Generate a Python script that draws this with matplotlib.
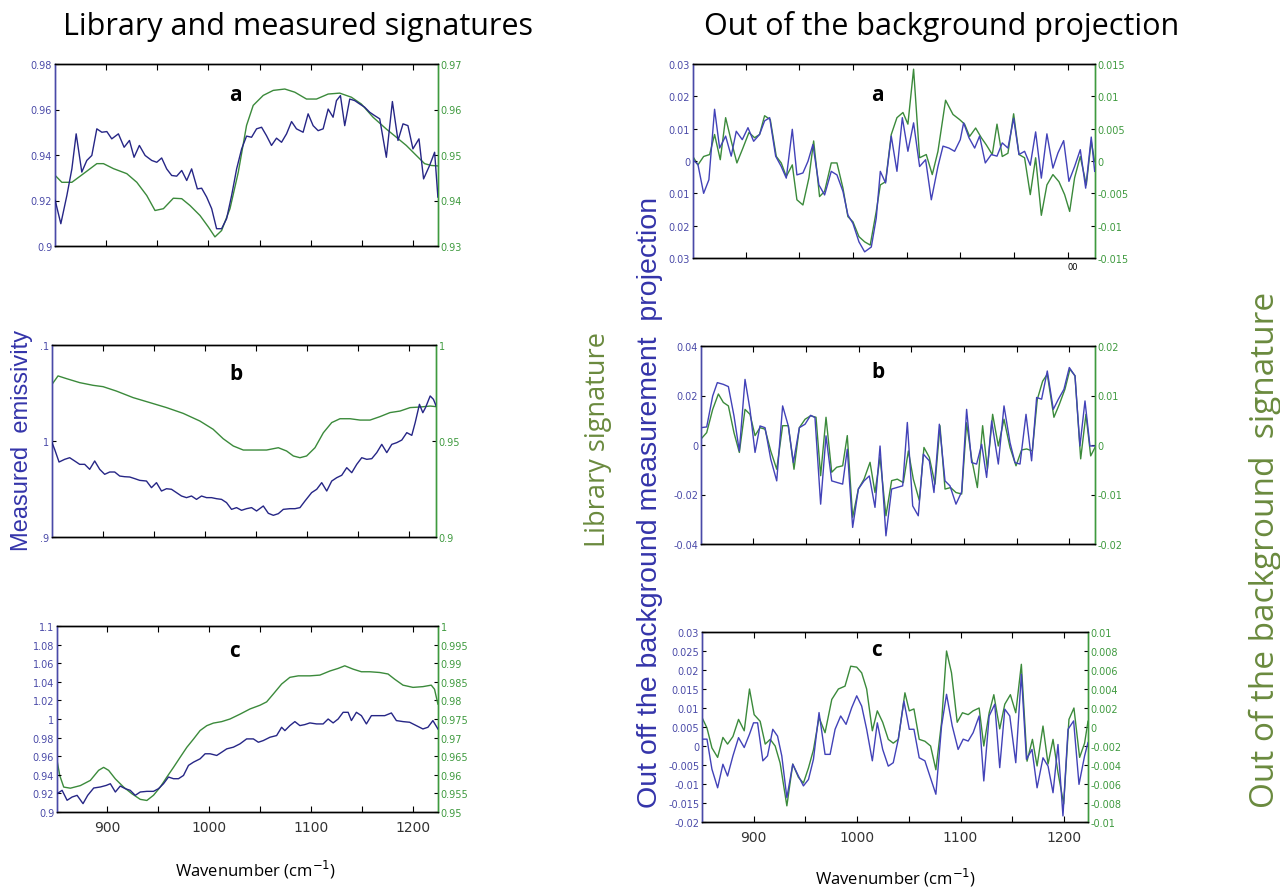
import matplotlib
matplotlib.use('Agg')
import matplotlib.pyplot as plt

# ---- panel a, left: measured (blue) and library (green) ----
la_wn_m = [850.2, 855.7, 861.6, 866.5, 870.7, 876.2, 881.1, 886.0, 890.9, 895.8, 900.7, 905.5, 912.0, 917.6, 922.8,
           927.3, 932.5, 938.1, 944.6, 949.5, 954.3, 959.2, 964.1, 969.0, 973.9, 978.8, 983.6, 989.2, 993.4, 998.3,
           1003.2, 1008.0, 1012.9, 1017.8, 1022.7, 1027.6, 1032.5, 1037.3, 1042.2, 1047.1, 1052.0, 1056.8, 1061.7,
           1066.6, 1071.5, 1076.4, 1081.3, 1086.1, 1092.6, 1097.5, 1102.4, 1107.3, 1112.2, 1117.1, 1121.9, 1125.2,
           1129.1, 1133.3, 1138.2, 1143.1, 1148.0, 1152.8, 1157.7, 1162.6, 1167.5, 1174.0, 1179.9, 1185.4, 1190.3,
           1195.1, 1200.0, 1205.9, 1210.4, 1216.3, 1221.2, 1224.4]
la_m = [0.9200, 0.9098, 0.9222, 0.9339, 0.9493, 0.9325, 0.9376, 0.9398, 0.9515, 0.9500, 0.9503, 0.9471, 0.9493,
        0.9434, 0.9464, 0.9390, 0.9442, 0.9398, 0.9376, 0.9368, 0.9387, 0.9339, 0.9310, 0.9307, 0.9332, 0.9288,
        0.9339, 0.9251, 0.9254, 0.9215, 0.9164, 0.9076, 0.9076, 0.9120, 0.9222, 0.9339, 0.9427, 0.9483, 0.9478,
        0.9515, 0.9522, 0.9485, 0.9442, 0.9474, 0.9456, 0.9493, 0.9547, 0.9515, 0.9500, 0.9581, 0.9529, 0.9507,
        0.9515, 0.9602, 0.9566, 0.9639, 0.9661, 0.9529, 0.9646, 0.9639, 0.9624, 0.9610, 0.9588, 0.9573, 0.9559,
        0.9390, 0.9635, 0.9464, 0.9537, 0.9529, 0.9427, 0.9471, 0.9295, 0.9354, 0.9412, 0.9215]
la_wn_l = [850.2, 856.7, 866.5, 877.9, 890.9, 897.4, 907.2, 920.2, 930.0, 939.7, 947.8, 956.0, 965.7, 973.9, 982.0,
           991.8, 999.9, 1006.4, 1012.9, 1021.1, 1029.2, 1037.3, 1043.8, 1053.6, 1063.4, 1074.7, 1084.5, 1095.9,
           1105.7, 1117.1, 1128.4, 1139.8, 1149.6, 1161.0, 1174.0, 1183.8, 1193.5, 1203.3, 1211.4, 1217.9, 1224.4]
la_l = [0.9455, 0.9440, 0.9440, 0.9459, 0.9481, 0.9481, 0.9470, 0.9459, 0.9440, 0.9411, 0.9378, 0.9382, 0.9405,
        0.9404, 0.9389, 0.9367, 0.9342, 0.9320, 0.9334, 0.9382, 0.9462, 0.9565, 0.9609, 0.9631, 0.9642, 0.9645,
        0.9638, 0.9623, 0.9623, 0.9634, 0.9636, 0.9627, 0.9612, 0.9583, 0.9557, 0.9539, 0.9521, 0.9499, 0.9481,
        0.9477, 0.9476]

# ---- panel b, left ----
lb_wn_m = [850.0, 852.6, 856.9, 862.4, 867.3, 872.2, 877.1, 882.0, 886.9, 891.8, 896.7, 901.6, 906.5, 911.4, 916.3,
           921.2, 926.1, 931.0, 935.9, 942.5, 947.4, 952.3, 957.2, 962.1, 967.0, 971.9, 976.8, 981.7, 986.6, 991.5,
           996.4, 1001.3, 1006.2, 1011.1, 1016.0, 1020.9, 1025.8, 1030.7, 1035.6, 1040.5, 1045.4, 1050.3, 1056.9,
           1061.8, 1066.7, 1071.6, 1076.5, 1083.0, 1087.9, 1092.8, 1097.7, 1104.2, 1109.2, 1114.1, 1119.0, 1123.9,
           1128.8, 1133.7, 1138.6, 1143.5, 1148.4, 1153.3, 1158.2, 1163.1, 1168.0, 1172.9, 1177.8, 1182.7, 1187.6,
           1192.5, 1197.4, 1202.3, 1205.6, 1209.8, 1213.1, 1215.7, 1220.3, 1223.5, 1226.1]
lb_m = [0.9983, 0.9913, 0.9781, 0.9809, 0.9826, 0.9792, 0.9757, 0.9757, 0.9705, 0.9792, 0.9705, 0.9653, 0.9677,
        0.9677, 0.9635, 0.9628, 0.9625, 0.9608, 0.9590, 0.9583, 0.9514, 0.9566, 0.9479, 0.9503, 0.9497, 0.9462,
        0.9427, 0.9410, 0.9427, 0.9392, 0.9427, 0.9410, 0.9410, 0.9399, 0.9392, 0.9358, 0.9288, 0.9306, 0.9278,
        0.9295, 0.9306, 0.9271, 0.9323, 0.9247, 0.9226, 0.9243, 0.9288, 0.9295, 0.9295, 0.9306, 0.9375, 0.9462,
        0.9497, 0.9566, 0.9479, 0.9583, 0.9618, 0.9643, 0.9722, 0.9670, 0.9757, 0.9826, 0.9809, 0.9816, 0.9879,
        0.9965, 0.9879, 0.9965, 0.9983, 1.0010, 1.0087, 1.0059, 1.0191, 1.0382, 1.0295, 1.0347, 1.0469, 1.0434,
        1.0365]
lb_wn_l = [850.0, 855.9, 864.1, 877.1, 890.2, 900.0, 913.1, 929.4, 945.8, 962.1, 978.4, 994.8, 1007.8, 1017.6,
           1027.5, 1037.3, 1050.3, 1060.1, 1071.6, 1079.7, 1086.3, 1092.8, 1099.3, 1107.5, 1115.7, 1123.9, 1132.0,
           1141.8, 1151.6, 1161.4, 1171.2, 1181.0, 1190.8, 1200.7, 1210.5, 1220.3, 1226.1]
lb_l = [0.9795, 0.9839, 0.9825, 0.9804, 0.9790, 0.9783, 0.9760, 0.9726, 0.9700, 0.9674, 0.9644, 0.9604, 0.9561,
        0.9512, 0.9474, 0.9453, 0.9453, 0.9453, 0.9465, 0.9448, 0.9422, 0.9413, 0.9422, 0.9465, 0.9543, 0.9596,
        0.9616, 0.9616, 0.9609, 0.9609, 0.9627, 0.9648, 0.9656, 0.9674, 0.9677, 0.9682, 0.9679]

# ---- panel c, left ----
lc_wn_m = [851.1, 856.0, 860.9, 865.8, 870.7, 876.5, 881.1, 887.0, 893.5, 899.3, 903.3, 908.2, 913.0, 917.9, 922.8,
           927.7, 932.6, 939.1, 945.6, 950.5, 955.4, 960.3, 965.2, 970.1, 975.0, 979.9, 984.8, 991.3, 996.2, 1001.1,
           1007.6, 1012.5, 1017.4, 1023.9, 1030.4, 1036.9, 1043.5, 1048.4, 1053.2, 1059.8, 1066.3, 1071.2, 1074.4,
           1079.3, 1084.2, 1089.1, 1094.0, 1098.9, 1105.4, 1111.9, 1116.8, 1121.7, 1126.6, 1131.5, 1136.4, 1139.6,
           1144.5, 1149.4, 1154.3, 1159.2, 1165.7, 1172.3, 1178.8, 1183.7, 1190.2, 1196.7, 1203.2, 1209.7, 1214.6,
           1219.5, 1224.4]
lc_m = [0.9197, 0.9233, 0.9126, 0.9161, 0.9179, 0.9090, 0.9179, 0.9258, 0.9269, 0.9286, 0.9304, 0.9215, 0.9279,
        0.9251, 0.9233, 0.9179, 0.9215, 0.9222, 0.9222, 0.9251, 0.9304, 0.9376, 0.9358, 0.9358, 0.9393, 0.9501,
        0.9536, 0.9572, 0.9626, 0.9626, 0.9608, 0.9643, 0.9679, 0.9697, 0.9733, 0.9786, 0.9786, 0.9750, 0.9768,
        0.9804, 0.9822, 0.9911, 0.9875, 0.9929, 0.9972, 0.9929, 0.9940, 0.9958, 0.9947, 0.9947, 1.0000, 0.9958,
        1.0000, 1.0072, 1.0072, 0.9983, 1.0072, 1.0036, 0.9947, 1.0036, 1.0036, 1.0036, 1.0065, 0.9983, 0.9972,
        0.9965, 0.9929, 0.9893, 0.9911, 0.9983, 0.9893]
lc_wn_l = [851.1, 853.7, 857.6, 864.1, 873.9, 883.7, 891.8, 896.7, 901.6, 908.2, 916.3, 924.5, 932.6, 939.1, 945.6,
           952.2, 958.7, 965.2, 971.7, 978.3, 984.8, 991.3, 997.8, 1004.3, 1012.5, 1020.6, 1030.4, 1040.2, 1050.0,
           1056.5, 1063.0, 1071.2, 1079.3, 1087.5, 1098.9, 1108.7, 1118.5, 1126.6, 1133.1, 1141.3, 1149.4, 1157.6,
           1167.4, 1175.5, 1182.0, 1190.2, 1200.0, 1209.7, 1217.9, 1221.1, 1224.4]
lc_l = [0.9638, 0.9598, 0.9567, 0.9564, 0.9571, 0.9585, 0.9612, 0.9620, 0.9612, 0.9589, 0.9567, 0.9549, 0.9534,
        0.9531, 0.9545, 0.9567, 0.9594, 0.9620, 0.9647, 0.9674, 0.9696, 0.9719, 0.9732, 0.9739, 0.9743, 0.9750,
        0.9763, 0.9777, 0.9787, 0.9796, 0.9817, 0.9844, 0.9862, 0.9866, 0.9866, 0.9868, 0.9879, 0.9886, 0.9893,
        0.9884, 0.9877, 0.9877, 0.9875, 0.9871, 0.9857, 0.9841, 0.9835, 0.9837, 0.9841, 0.9830, 0.9790]

# ---- panel a, right: out of background projections ----
ra_wn_m = [850.9, 855.6, 860.9, 865.8, 871.1, 875.8, 881.4, 886.6, 891.3, 896.9, 902.2, 907.5, 913.0, 917.7, 922.4,
           928.0, 933.2, 937.9, 943.5, 947.8, 953.4, 958.1, 962.7, 968.3, 973.6, 979.8, 985.1, 990.7, 995.3, 1000.0,
           1005.6, 1010.9, 1017.1, 1021.7, 1025.5, 1030.4, 1035.7, 1041.0, 1046.0, 1051.2, 1056.5, 1062.1, 1067.7,
           1073.0, 1079.2, 1083.9, 1089.4, 1094.7, 1100.0, 1103.1, 1108.1, 1113.4, 1118.0, 1123.3, 1128.9, 1134.2,
           1139.1, 1144.4, 1149.7, 1154.7, 1159.9, 1165.2, 1170.2, 1175.5, 1180.7, 1186.3, 1191.0, 1196.3, 1201.2,
           1206.5, 1211.8, 1216.8, 1222.0, 1225.2]
ra_m = [0.0004, -0.0011, -0.0100, -0.0058, 0.0160, 0.0040, 0.0077, 0.0015, 0.0092, 0.0066, 0.0103, 0.0061, 0.0082,
        0.0124, 0.0134, 0.0015, -0.0017, -0.0053, 0.0098, -0.0043, -0.0037, -0.0001, 0.0051, -0.0074, -0.0105,
        -0.0032, -0.0043, -0.0094, -0.0167, -0.0193, -0.0250, -0.0281, -0.0266, -0.0177, -0.0032, -0.0068, 0.0077,
        -0.0032, 0.0134, 0.0030, 0.0118, -0.0017, 0.0004, -0.0120, -0.0017, 0.0046, 0.0040, 0.0030, 0.0066, 0.0118,
        0.0072, 0.0040, 0.0077, -0.0006, 0.0020, 0.0015, 0.0056, 0.0040, 0.0132, 0.0020, 0.0030, -0.0013, 0.0090,
        -0.0053, 0.0084, -0.0022, 0.0025, 0.0063, -0.0063, -0.0017, 0.0035, -0.0084, 0.0074, -0.0032]
ra_wn_l = [850.9, 855.6, 860.9, 866.5, 871.1, 876.4, 881.4, 886.6, 891.9, 897.5, 903.1, 908.4, 913.0, 917.7, 923.0,
           928.6, 933.2, 937.9, 943.5, 947.8, 953.4, 959.0, 963.4, 968.9, 973.6, 979.8, 985.1, 990.7, 995.3, 1000.0,
           1005.6, 1010.9, 1016.1, 1021.7, 1025.5, 1030.4, 1035.7, 1041.0, 1046.6, 1051.2, 1056.5, 1062.1, 1068.3,
           1073.9, 1079.2, 1086.3, 1093.2, 1099.4, 1104.0, 1108.7, 1114.3, 1119.6, 1124.2, 1129.8, 1134.2, 1139.1,
           1144.4, 1149.7, 1154.7, 1159.9, 1165.2, 1170.2, 1175.5, 1180.7, 1186.3, 1191.9, 1197.2, 1201.9, 1206.5,
           1211.8, 1217.4, 1222.0, 1225.2]
ra_l = [0.0007, -0.0006, 0.0007, 0.0010, 0.0041, 0.0002, 0.0067, 0.0031, -0.0003, 0.0020, 0.0044, 0.0036, 0.0041,
        0.0070, 0.0064, 0.0007, -0.0003, -0.0024, -0.0006, -0.0060, -0.0068, -0.0026, 0.0031, -0.0055, -0.0047,
        -0.0003, -0.0003, -0.0042, -0.0086, -0.0094, -0.0117, -0.0125, -0.0130, -0.0078, -0.0037, -0.0032, 0.0041,
        0.0067, 0.0075, 0.0057, 0.0142, 0.0005, 0.0010, -0.0021, 0.0015, 0.0094, 0.0072, 0.0064, 0.0057, 0.0038,
        0.0051, 0.0036, 0.0025, 0.0010, 0.0057, 0.0007, 0.0012, 0.0073, 0.0010, 0.0005, -0.0052, 0.0005, -0.0084,
        -0.0037, -0.0021, -0.0032, -0.0052, -0.0078, -0.0026, 0.0007, -0.0037, 0.0031, -0.0001]

# ---- panel b, right ----
rb_wn_m = [850.3, 855.7, 861.4, 865.8, 871.5, 876.3, 881.6, 886.7, 892.1, 896.8, 901.6, 906.3, 911.1, 916.5, 922.2,
           927.8, 933.2, 938.0, 943.7, 949.1, 954.4, 958.5, 963.9, 969.0, 974.4, 979.1, 984.8, 989.2, 994.3, 999.7,
           1005.1, 1010.1, 1015.5, 1020.3, 1025.9, 1031.3, 1036.1, 1041.8, 1046.2, 1051.3, 1056.6, 1061.4, 1067.1,
           1071.5, 1076.6, 1082.0, 1086.7, 1092.4, 1097.8, 1102.5, 1107.3, 1112.0, 1116.8, 1121.5, 1126.3, 1132.6,
           1138.0, 1143.7, 1148.4, 1153.2, 1158.9, 1164.2, 1169.0, 1173.7, 1179.1, 1184.8, 1189.6, 1194.9, 1200.0,
           1205.4, 1210.1, 1214.9, 1219.6, 1224.4]
rb_m = [0.0070, 0.0073, 0.0198, 0.0252, 0.0245, 0.0236, 0.0118, -0.0024, 0.0265, 0.0144, -0.0030, 0.0077, 0.0070,
        -0.0057, -0.0145, 0.0158, 0.0077, -0.0071, 0.0070, 0.0084, 0.0120, 0.0111, -0.0239, 0.0037, -0.0145,
        -0.0151, -0.0158, -0.0017, -0.0333, -0.0178, -0.0145, -0.0125, -0.0252, -0.0004, -0.0367, -0.0178, -0.0172,
        -0.0165, 0.0091, -0.0246, -0.0286, -0.0037, -0.0064, -0.0192, 0.0084, -0.0145, -0.0165, -0.0239, -0.0189,
        0.0144, -0.0071, -0.0077, 0.0003, -0.0131, 0.0097, -0.0077, 0.0158, 0.0010, -0.0071, -0.0077, 0.0124,
        -0.0064, 0.0192, 0.0185, 0.0299, 0.0144, 0.0185, 0.0225, 0.0313, 0.0279, -0.0004, 0.0178, -0.0004, -0.0004]
rb_wn_l = [850.3, 855.7, 861.4, 866.8, 871.5, 876.3, 881.6, 886.7, 892.1, 896.8, 901.6, 906.3, 911.1, 916.5, 922.2,
           927.8, 933.2, 938.6, 943.7, 949.1, 954.4, 959.5, 963.9, 969.0, 974.4, 979.1, 984.8, 989.2, 994.3, 999.7,
           1005.1, 1010.8, 1015.5, 1020.3, 1025.9, 1031.3, 1036.7, 1042.4, 1047.2, 1051.9, 1057.6, 1062.0, 1067.1,
           1072.5, 1077.2, 1082.0, 1087.3, 1092.4, 1097.8, 1102.5, 1107.3, 1112.7, 1117.7, 1122.2, 1127.2, 1132.6,
           1138.0, 1143.7, 1149.4, 1154.7, 1159.5, 1164.9, 1169.6, 1174.7, 1179.1, 1185.4, 1190.5, 1195.9, 1200.6,
           1205.4, 1210.8, 1215.8, 1220.3, 1224.4]
rb_l = [0.0012, 0.0025, 0.0072, 0.0103, 0.0086, 0.0079, 0.0025, -0.0015, 0.0072, 0.0062, 0.0019, 0.0035, 0.0032,
        -0.0012, -0.0049, 0.0039, 0.0039, -0.0049, 0.0035, 0.0052, 0.0059, 0.0056, -0.0062, 0.0056, -0.0055,
        -0.0045, -0.0042, 0.0019, -0.0146, -0.0089, -0.0069, -0.0035, -0.0096, -0.0025, -0.0143, -0.0072, -0.0069,
        -0.0076, -0.0012, -0.0069, -0.0112, -0.0005, -0.0025, -0.0079, 0.0039, -0.0089, -0.0086, -0.0096, -0.0099,
        0.0045, -0.0028, -0.0086, 0.0039, -0.0049, 0.0062, -0.0002, 0.0052, -0.0005, -0.0042, -0.0010, -0.0008,
        -0.0012, 0.0092, 0.0129, 0.0143, 0.0056, 0.0082, 0.0113, 0.0153, 0.0140, -0.0028, 0.0062, -0.0022, -0.0005]

# ---- panel c, right ----
rc_wn_m = [850.2, 855.0, 859.8, 865.3, 870.4, 874.9, 880.1, 885.5, 891.0, 896.1, 900.0, 903.9, 909.0, 913.5, 918.6,
           923.2, 927.3, 932.2, 937.9, 943.4, 948.2, 953.1, 957.9, 963.3, 969.1, 974.0, 978.8, 984.2, 989.4, 994.9,
           999.7, 1004.5, 1009.3, 1014.8, 1019.6, 1024.8, 1030.2, 1035.0, 1039.9, 1045.3, 1050.5, 1055.0, 1060.1,
           1065.6, 1070.4, 1076.2, 1081.7, 1086.5, 1092.0, 1097.7, 1102.6, 1107.4, 1112.2, 1118.0, 1122.5, 1127.7,
           1133.1, 1137.9, 1142.8, 1147.6, 1153.4, 1158.8, 1163.7, 1169.1, 1174.0, 1179.7, 1184.6, 1189.4, 1194.2,
           1199.0, 1203.9, 1209.3, 1214.5, 1219.9, 1223.2]
rc_m = [0.0018, 0.0018, -0.0061, -0.0110, -0.0048, -0.0079, -0.0026, 0.0022, -0.0004, 0.0031, 0.0061, 0.0061,
        -0.0039, -0.0026, 0.0044, 0.0026, -0.0026, -0.0136, -0.0048, -0.0079, -0.0105, -0.0088, -0.0035, 0.0088,
        -0.0022, -0.0022, 0.0044, 0.0079, 0.0057, 0.0101, 0.0132, 0.0105, 0.0044, -0.0039, 0.0061, -0.0009, -0.0053,
        -0.0044, 0.0018, 0.0118, 0.0044, 0.0044, -0.0031, -0.0039, -0.0079, -0.0127, 0.0053, 0.0136, 0.0053,
        -0.0009, 0.0018, 0.0013, 0.0035, 0.0079, -0.0092, 0.0079, 0.0110, -0.0057, 0.0097, 0.0079, -0.0044, 0.0189,
        -0.0035, -0.0009, -0.0110, -0.0031, -0.0053, -0.0123, 0.0004, -0.0184, 0.0044, 0.0066, -0.0101, -0.0026,
        0.0009]
rc_wn_l = [850.2, 855.0, 859.8, 865.3, 870.4, 874.9, 880.1, 885.5, 891.0, 896.1, 900.6, 906.4, 911.3, 916.1, 920.9,
           925.7, 932.2, 937.9, 943.4, 948.2, 953.1, 957.9, 963.3, 969.1, 975.6, 982.0, 988.4, 993.9, 999.7, 1004.5,
           1009.3, 1014.8, 1019.6, 1024.8, 1030.2, 1035.0, 1039.9, 1046.3, 1050.5, 1055.0, 1060.1, 1065.6, 1071.1,
           1076.2, 1081.7, 1086.5, 1091.3, 1096.8, 1101.9, 1107.4, 1112.2, 1118.0, 1122.5, 1127.7, 1132.2, 1137.9,
           1142.8, 1148.2, 1153.4, 1158.8, 1164.3, 1169.5, 1174.0, 1179.7, 1184.6, 1189.4, 1194.2, 1199.7, 1204.8,
           1209.6, 1215.1, 1219.9, 1223.2]
rc_l = [0.0010, -0.0001, -0.0022, -0.0032, -0.0011, -0.0018, -0.0010, 0.0008, -0.0004, 0.0040, 0.0013, 0.0006,
        -0.0018, -0.0013, -0.0020, -0.0038, -0.0083, -0.0039, -0.0053, -0.0059, -0.0043, -0.0024, 0.0010, -0.0006,
        0.0029, 0.0040, 0.0043, 0.0064, 0.0063, 0.0057, 0.0040, -0.0004, 0.0017, 0.0005, -0.0013, -0.0017, -0.0013,
        0.0036, 0.0017, 0.0019, -0.0013, -0.0015, -0.0020, -0.0045, 0.0005, 0.0080, 0.0057, 0.0005, 0.0015, 0.0013,
        0.0017, 0.0020, -0.0020, 0.0015, 0.0034, -0.0002, 0.0024, 0.0034, 0.0015, 0.0066, -0.0036, -0.0013, -0.0041,
        0.0001, -0.0039, -0.0013, -0.0048, -0.0081, 0.0008, 0.0020, -0.0032, -0.0017, 0.0006]

# tick labels as printed in the figure
x_ticks = [900, 950, 1000, 1050, 1100, 1150, 1200]
x_labels = ['900', '', '1000', '', '1100', '', '1200']

BLUE_L = '#262686'
BLUE_R = '#4242b8'
GREEN = '#3b8a3b'
TICK_BLUE = '#4a4aa8'
TICK_GREEN = '#3f9a3f'
OLIVE = '#6a8a3e'
LABEL_BLUE = '#3434aa'

W, H = 1280, 895
fig = plt.figure(figsize=(12.8, 8.95), dpi=100)


def rect(x0, y0, x1, y1):
    return [x0 / W, 1 - y1 / H, (x1 - x0) / W, (y1 - y0) / H]


def panel(box, xlim, wn_m, m, wn_l, l, blue, yl, ytl, ytl_lab, yr, ytr, ytr_lab,
          letter, letter_xy, show_x=False):
    ax = fig.add_axes(rect(*box))
    ax2 = ax.twinx()
    ax.plot(wn_m, m, color=blue, lw=1.0, zorder=3)
    ax2.plot(wn_l, l, color=GREEN, lw=1.0)
    ax.set_zorder(ax2.get_zorder() + 1)
    ax.patch.set_visible(False)
    ax.set_xlim(*xlim)
    ax.set_ylim(*yl)
    ax2.set_ylim(*yr)
    ax.set_xticks(x_ticks)
    if show_x:
        ax.set_xticklabels(x_labels, fontsize=10, color='#333333')
    else:
        ax.set_xticklabels([])
    ax.set_yticks(ytl)
    ax.set_yticklabels(ytl_lab, fontsize=7, color=TICK_BLUE)
    ax2.set_yticks(ytr)
    ax2.set_yticklabels(ytr_lab, fontsize=7, color=TICK_GREEN)
    ax.tick_params(axis='x', top=True, direction='in', length=4, pad=6)
    ax.tick_params(axis='y', direction='in', length=3, pad=2)
    ax2.tick_params(axis='y', direction='in', length=3, pad=2)
    for a in (ax, ax2):
        a.spines['left'].set_color(TICK_BLUE)
        a.spines['right'].set_color(TICK_GREEN)
        for s in a.spines.values():
            s.set_linewidth(1.0)
    ax.text(letter_xy[0], letter_xy[1], letter, transform=ax.transAxes, fontsize=15,
            fontweight='bold', ha='center', va='center', family='Open Sans')
    return ax


# left column
panel((55, 65, 438, 247), (850, 1224.5), la_wn_m, la_m, la_wn_l, la_l, BLUE_L,
      (0.9, 0.98), [0.9, 0.92, 0.94, 0.96, 0.98], ['0.9', '0.92', '0.94', '0.96', '0.98'],
      (0.93, 0.97), [0.93, 0.94, 0.95, 0.96, 0.97], ['0.93', '0.94', '0.95', '0.96', '0.97'],
      'a', (0.47, 0.835))
panel((52, 346, 436, 538), (850, 1226), lb_wn_m, lb_m, lb_wn_l, lb_l, BLUE_L,
      (0.9, 1.1), [0.9, 1.0, 1.1], ['.9', '1', '.1'],
      (0.9, 1.0), [0.9, 0.95, 1.0], ['0.9', '0.95', '1'],
      'b', (0.48, 0.85))
lc_left = [0.9 + 0.02 * i for i in range(11)]
lc_right = [0.95 + 0.005 * i for i in range(11)]
panel((57, 627, 438, 813), (851, 1224.5), lc_wn_m, lc_m, lc_wn_l, lc_l, BLUE_L,
      (0.9, 1.1), lc_left,
      ['0.9', '0.92', '0.94', '0.96', '0.98', '1', '1.02', '1.04', '1.06', '1.08', '1.1'],
      (0.95, 1.0), lc_right,
      ['0.95', '0.955', '0.96', '0.965', '0.97', '0.975', '0.98', '0.985', '0.99', '0.995', '1'],
      'c', (0.467, 0.866), show_x=True)

# right column
panel((693, 65, 1095, 259), (851, 1225.5), ra_wn_m, ra_m, ra_wn_l, ra_l, BLUE_R,
      (-0.03, 0.03), [0.03, 0.02, 0.01, 0, -0.01, -0.02, -0.03],
      ['0.03', '0.02', '0.01', '0', '0.01', '0.02', '0.03'],
      (-0.015, 0.015), [0.015, 0.01, 0.005, 0, -0.005, -0.01, -0.015],
      ['0.015', '0.01', '0.005', '0', '-0.005', '-0.01', '-0.015'],
      'a', (0.458, 0.845))
panel((701, 347, 1095, 545), (850.3, 1224.4), rb_wn_m, rb_m, rb_wn_l, rb_l, BLUE_R,
      (-0.04, 0.04), [0.04, 0.02, 0, -0.02, -0.04], ['0.04', '0.02', '0', '-0.02', '-0.04'],
      (-0.02, 0.02), [0.02, 0.01, 0, -0.01, -0.02], ['0.02', '0.01', '0', '-0.01', '-0.02'],
      'b', (0.449, 0.869))
rc_left = [0.03 - 0.005 * i for i in range(11)]
rc_right = [0.01 - 0.002 * i for i in range(11)]
panel((702, 633, 1088, 823), (850.2, 1223.2), rc_wn_m, rc_m, rc_wn_l, rc_l, BLUE_R,
      (-0.02, 0.03), rc_left,
      ['0.03', '0.025', '0.02', '0.015', '0.01', '0.005', '0', '-0.005', '-0.01', '-0.015', '-0.02'],
      (-0.01, 0.01), rc_right,
      ['0.01', '0.008', '0.006', '0.004', '0.002', '0', '-0.002', '-0.004', '-0.006', '-0.008', '-0.01'],
      'c', (0.451, 0.91), show_x=True)

# stray clipped tick label under the top right panel
fig.text(1073 / W, 1 - 268 / H, '00', fontsize=6, ha='center', va='center')

# titles and axis names
fig.text(298 / W, 1 - 27 / H, 'Library and measured signatures', fontsize=22,
         family='Open Sans', ha='center', va='center')
fig.text(942 / W, 1 - 27 / H, 'Out of the background projection', fontsize=22,
         family='Open Sans', ha='center', va='center')
fig.text(22 / W, 1 - 440 / H, 'Measured  emissivity', fontsize=17, color=LABEL_BLUE,
         family='Liberation Sans', rotation=90, ha='center', va='center')
fig.text(598 / W, 1 - 440 / H, 'Library signature', fontsize=19.5, color=OLIVE,
         family='Open Sans', rotation=90, ha='center', va='center')
fig.text(650 / W, 1 - 502 / H, 'Out off the background measurement  projection', fontsize=20.5,
         color=LABEL_BLUE, family='Liberation Sans', rotation=90, ha='center', va='center')
fig.text(1265 / W, 1 - 550 / H, 'Out of the background  signature', fontsize=24, color=OLIVE,
         family='Open Sans', rotation=90, ha='center', va='center')
fig.text(255 / W, 1 - 870 / H, 'Wavenumber (cm$^{-1}$)', fontsize=12, family='Open Sans',
         ha='center', va='center')
fig.text(895 / W, 1 - 878 / H, 'Wavenumber (cm$^{-1}$)', fontsize=12, family='Open Sans',
         ha='center', va='center')

plt.savefig('out.png', dpi=100)
